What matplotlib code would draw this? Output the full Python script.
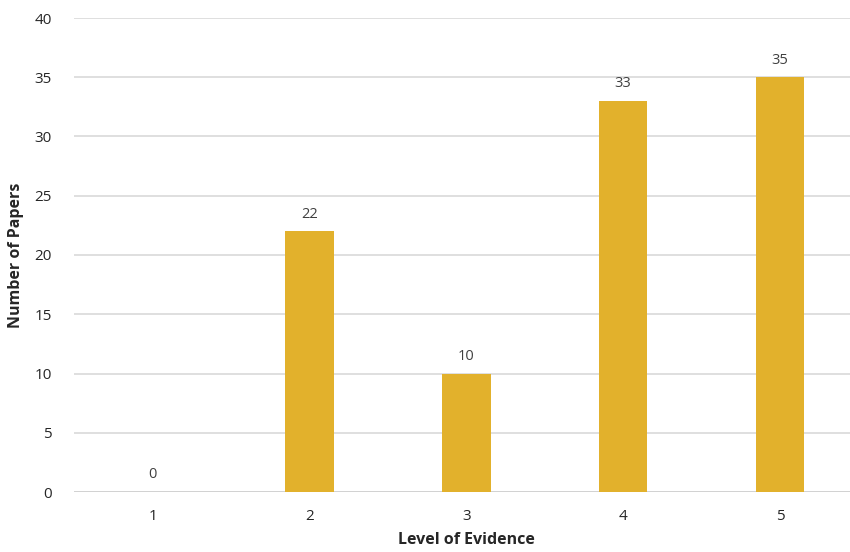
import matplotlib.pyplot as plt

levels = ["1", "2", "3", "4", "5"]
papers = [0, 22, 10, 33, 35]

plt.rcParams['font.family'] = ['Open Sans', 'DejaVu Sans']

fig = plt.figure(figsize=(8.5, 5.52), dpi=100)
ax = fig.add_axes([74.3 / 850, 60 / 552, 784 / 850, 474 / 552])

x = range(len(levels))
ax.bar(x, papers, width=0.31, color="#E2B12C", zorder=3)
for xi, v in zip(x, papers):
    ax.annotate(str(v), (xi, v), xytext=(0, 7), textcoords="offset points",
                ha="center", va="bottom", fontsize=10.5, color="#404040")

ax.set_xlim(-0.5, len(levels) - 0.5)
ax.set_ylim(0, 40)
ax.set_yticks(range(0, 41, 5))
ax.set_xticks(list(x))
ax.set_xticklabels(levels)
ax.grid(axis="y", color="#D9D9D9", linewidth=1.2, zorder=0)
ax.tick_params(length=0, labelsize=11, labelcolor="#262626")
ax.tick_params(axis="y", pad=16)
ax.tick_params(axis="x", pad=12)
for s in ax.spines.values():
    s.set_visible(False)
ax.axhline(0, color="#D0D0D0", linewidth=1.2, zorder=2)

ax.set_xlabel("Level of Evidence", fontsize=11.5, fontweight="bold", color="#262626", labelpad=6)
ax.set_ylabel("Number of Papers", fontsize=11.5, fontweight="bold", color="#262626", labelpad=8)

fig.savefig("out.png", dpi=100)
